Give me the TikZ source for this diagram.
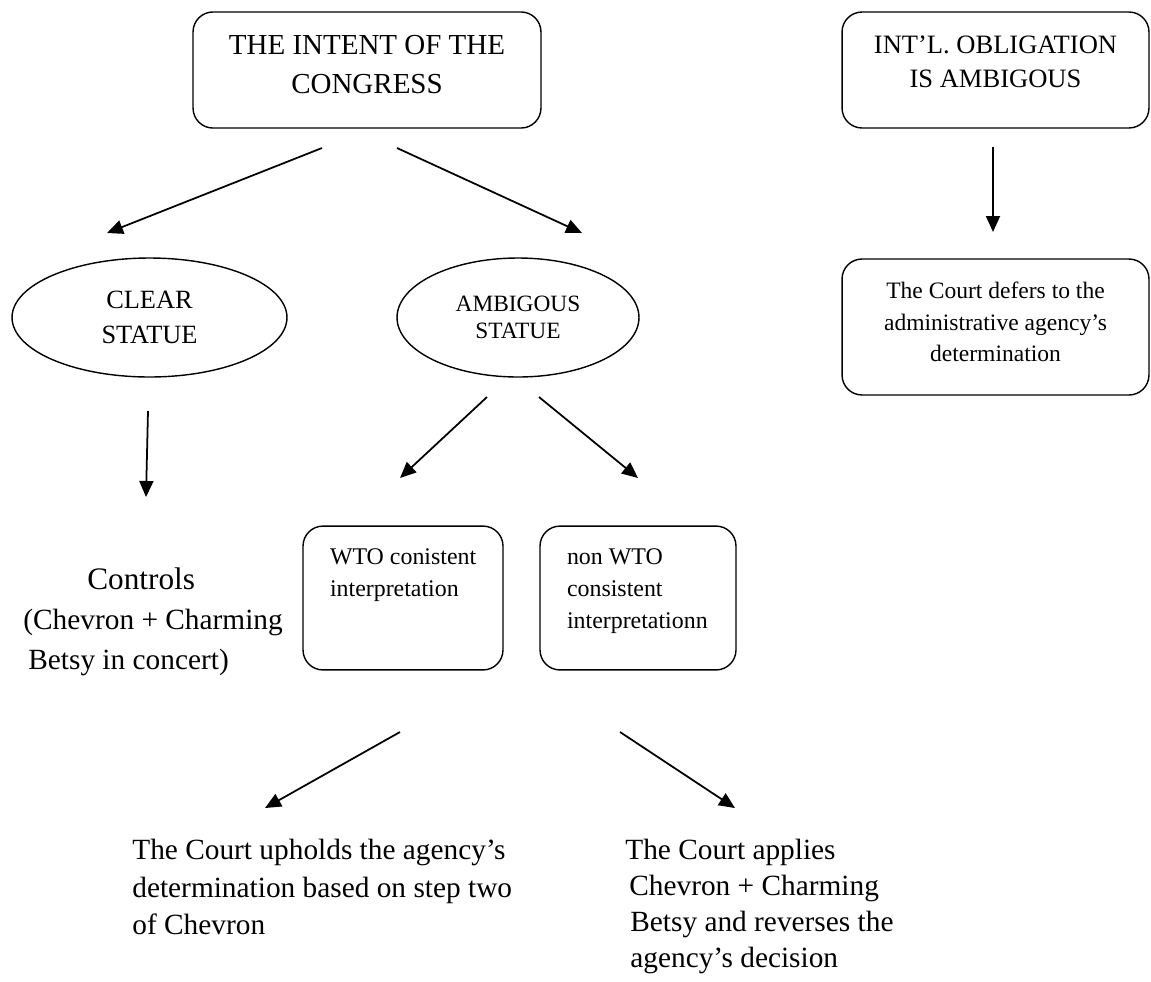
\documentclass[tikz,border=0pt]{standalone}
\usepackage{fontspec}
\setmainfont{Liberation Serif}
\usetikzlibrary{positioning, shapes.geometric, arrows.meta}

\begin{document}
\begin{tikzpicture}[x=0.02cm, y=-0.02cm,
	rbox/.style={draw, line width=0.8pt, rounded corners=0.4cm, inner sep=0pt},
	oval/.style={draw, ellipse, line width=0.8pt, inner sep=0pt, align=center},
	arr/.style={-{Triangle[length=0.32cm,width=0.28cm]}, line width=1pt}]
			\useasboundingbox (0,0) rectangle (1151,981);
			
			\node (intent) at (367,70) [rbox, inner ysep=0.476cm, font=\fontsize{16.5}{22.2}\selectfont] {\parbox[t][1.37cm][t]{6.96cm}{\centering THE INTENT OF THE\\CONGRESS}};
			\node (oblig) at (995.5,70) [rbox, inner ysep=0.47cm, font=\fontsize{15.1}{19.3}\selectfont] {\parbox[t][1.38cm][t]{6.14cm}{\centering INT’L. OBLIGATION\\IS AMBIGOUS}};
			\node (defer) at (995.5,327) [rbox, inner ysep=0.46cm, font=\fontsize{13.4}{18}\selectfont] {\parbox[t][1.8cm][t]{6.14cm}{\centering The Court defers to the\\administrative agency’s\\determination}};
			
			\node (clear) at (149.5,317.5) [oval, minimum width=5.5cm, minimum height=2.38cm, font=\fontsize{15}{19.9}\selectfont] {CLEAR\\STATUE};
			\node (ambig) at (518,317.5) [oval, minimum width=4.84cm, minimum height=2.38cm, font=\fontsize{13.3}{15.4}\selectfont] {AMBIGOUS\\STATUE};
			
			\node (wto) at (403,598) [rbox, inner ysep=0.454cm, font=\fontsize{13.6}{18.2}\selectfont] {\parbox[t][1.97cm][t]{4cm}{\raggedright\leftskip=0.54cm WTO conistent\\interpretation}};
			\node (nonwto) at (638,598) [rbox, inner ysep=0.454cm, font=\fontsize{13.6}{18.2}\selectfont] {\parbox[t][1.97cm][t]{3.92cm}{\raggedright\leftskip=0.54cm non WTO\\consistent\\interpretationn}};
			
			\node (controls) at (23,567) [anchor=north west, inner sep=0pt, align=left, font=\fontsize{16.7}{23}\selectfont] {\hspace*{1.28cm}{\fontsize{17.8}{23}\selectfont Controls}\\(Chevron + Charming\\\hspace*{0.1cm}Betsy in concert)};
			\node (uphold) at (132,839) [anchor=north west, inner sep=0pt, align=left, font=\fontsize{16.7}{21.3}\selectfont] {The Court upholds the agency’s\\determination based on step two\\of Chevron};
			\node (reverse) at (625,839) [anchor=north west, inner sep=0pt, align=left, font=\fontsize{16.7}{20.5}\selectfont] {The Court applies\\\hspace*{0.08cm}Chevron + Charming\\\hspace*{0.1cm}Betsy and reverses the\\\hspace*{0.1cm}agency’s decision};
			
			\coordinate (1) at (322,148);
			\coordinate (2) at (107,233);
			\coordinate (3) at (397,148);
			\coordinate (4) at (582,233);
			\coordinate (5) at (148,411);
			\coordinate (6) at (146,497);
			\coordinate (7) at (487,397);
			\coordinate (8) at (400,478);
			\coordinate (9) at (539,397);
			\coordinate (10) at (638,478);
			\coordinate (11) at (993,147);
			\coordinate (12) at (993,232);
			\coordinate (13) at (400,732);
			\coordinate (14) at (265,808);
			\coordinate (15) at (620,732);
			\coordinate (16) at (735,808);
			
			\draw[arr] (1) -- (2);
			\draw[arr] (3) -- (4);
			\draw[arr] (5) -- (6);
			\draw[arr] (7) -- (8);
			\draw[arr] (9) -- (10);
			\draw[arr] (11) -- (12);
			\draw[arr] (13) -- (14);
			\draw[arr] (15) -- (16);
		\end{tikzpicture}
\end{document}
